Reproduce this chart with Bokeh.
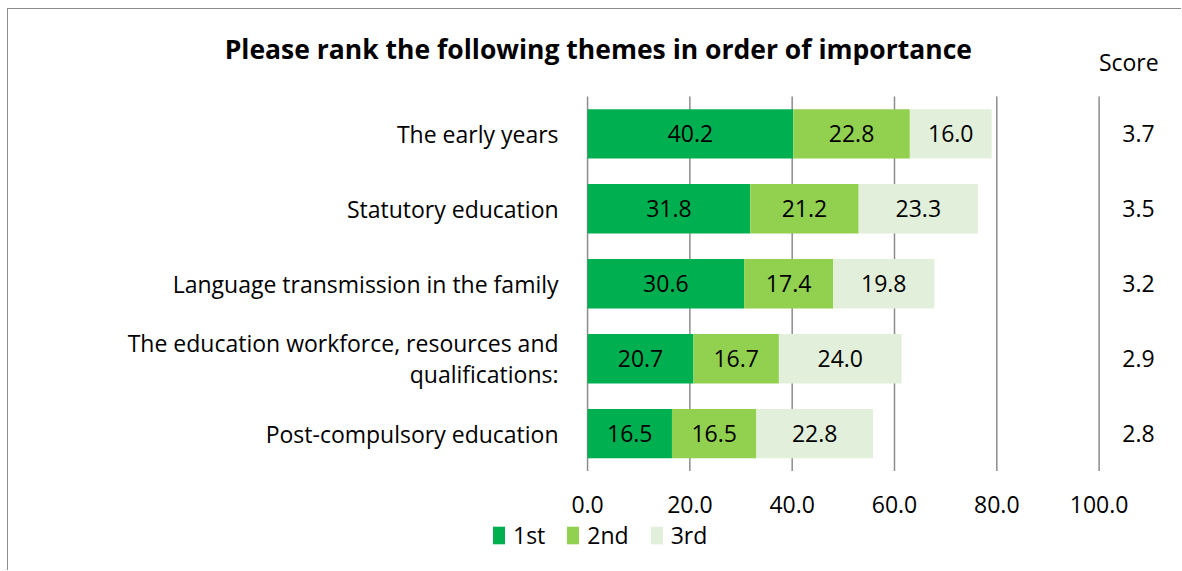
from bokeh.plotting import figure
from bokeh.models import Range1d, FixedTicker, ColumnDataSource, Legend, LegendItem
from bokeh.core.properties import value
from bokeh.embed import file_html
from bokeh.resources import INLINE

# ---- data ----
categories = [
    "The early years",
    "Statutory education",
    "Language transmission in the family",
    "The education workforce, resources and\nqualifications:",
    "Post-compulsory education",
]
first = [40.2, 31.8, 30.6, 20.7, 16.5]
second = [22.8, 21.2, 17.4, 16.7, 16.5]
third = [16.0, 23.3, 19.8, 24.0, 22.8]
scores = [3.7, 3.5, 3.2, 2.9, 2.8]
series_names = ["1st", "2nd", "3rd"]
x_ticks = [0, 20, 40, 60, 80, 100]
x_tick_labels = ["0.0", "20.0", "40.0", "60.0", "80.0", "100.0"]
title_text = "Please rank the following themes in order of importance"
score_header = "Score"

# ---- style ----
colors = ["#00B050", "#92D050", "#E2EFDA"]
FONT = "Open Sans"
LBL = "23px"
n = len(categories)
ypos = [n - 1 - i for i in range(n)]
score_x = 107.7
header_x = 105.8
band_lo, band_hi = -0.5, n - 0.5

p = figure(width=1174, height=562, margin=(8, 0, 0, 7), output_backend="svg", toolbar_location=None,
           x_range=Range1d(-113.2, 116.3), y_range=Range1d(-1.84, 5.66),
           min_border=0, title=None,
           background_fill_color="white", border_fill_color="white",
           styles={"border-left": "1px solid #8c8c8c", "border-top": "1px solid #8c8c8c"})
p.outline_line_color = None

# grid lines limited to the bar band
p.segment(x0=x_ticks, y0=[band_lo] * len(x_ticks), x1=x_ticks, y1=[band_hi] * len(x_ticks),
          line_color="#8c8c8c", line_width=1.5, level="underlay")

series = [first, second, third]
lefts = [0.0] * n
renderers = []
for name, vals, col in zip(series_names, series, colors):
    rights = [l + v for l, v in zip(lefts, vals)]
    src = ColumnDataSource(dict(y=ypos, left=lefts, right=rights,
                                mid=[(l + r) / 2 for l, r in zip(lefts, rights)],
                                lab=[f"{v:.1f}" for v in vals]))
    r = p.hbar(y="y", left="left", right="right", height=0.66, source=src,
               fill_color=col, line_color=None)
    renderers.append(r)
    p.text(x="mid", y="y", text="lab", source=src, text_align="center",
           text_baseline="middle", text_font=value(FONT), text_font_size=LBL,
           text_color="black")
    lefts = rights

ssrc = ColumnDataSource(dict(x=[score_x] * n, y=ypos, lab=[f"{s:.1f}" for s in scores]))
p.text(x="x", y="y", text="lab", source=ssrc, text_align="center", text_baseline="middle",
       text_font=value(FONT), text_font_size=LBL, text_color="black")

# header texts
p.text(x=[header_x], y=[band_hi + 0.455], text=[score_header], text_align="center",
       text_baseline="middle", text_font=value(FONT), text_font_size=LBL, text_color="black")
p.text(x=[2.1], y=[band_hi + 0.63], text=[title_text], text_align="center",
       text_baseline="middle", text_font=value(FONT), text_font_size="26.5px",
       text_font_style="bold", text_color="black")

# axes (fixed inside the frame)
p.xaxis.fixed_location = band_lo
p.xaxis.ticker = FixedTicker(ticks=x_ticks)
p.xaxis.major_label_overrides = {t: l for t, l in zip(x_ticks, x_tick_labels)}
p.xaxis.axis_line_color = None
p.xaxis.major_tick_line_color = None
p.xaxis.minor_tick_line_color = None
p.xaxis.major_label_standoff = 19
p.xaxis.major_label_text_font = FONT
p.xaxis.major_label_text_font_size = LBL
p.xaxis.major_label_text_color = "black"

p.yaxis.fixed_location = 0
p.yaxis.ticker = FixedTicker(ticks=ypos)
p.yaxis.major_label_overrides = {y: c for y, c in zip(ypos, categories)}
p.yaxis.axis_line_color = None
p.yaxis.major_tick_line_color = None
p.yaxis.minor_tick_line_color = None
p.yaxis.major_label_standoff = 23
p.yaxis.major_label_text_font = FONT
p.yaxis.major_label_text_font_size = LBL
p.yaxis.major_label_text_line_height = 0.96
p.yaxis.major_label_text_color = "black"

p.xgrid.visible = False
p.ygrid.visible = False

legend = Legend(items=[LegendItem(label=nm, renderers=[r]) for nm, r in zip(series_names, renderers)],
                orientation="horizontal", location=(483, 20), glyph_width=15, glyph_height=22,
                label_standoff=7, spacing=20, padding=0, margin=0,
                border_line_color=None, background_fill_alpha=0,
                label_text_font=FONT, label_text_font_size=LBL, label_text_color="black")
p.add_layout(legend, "center")

open("out.html", "w").write(file_html(p, INLINE))
